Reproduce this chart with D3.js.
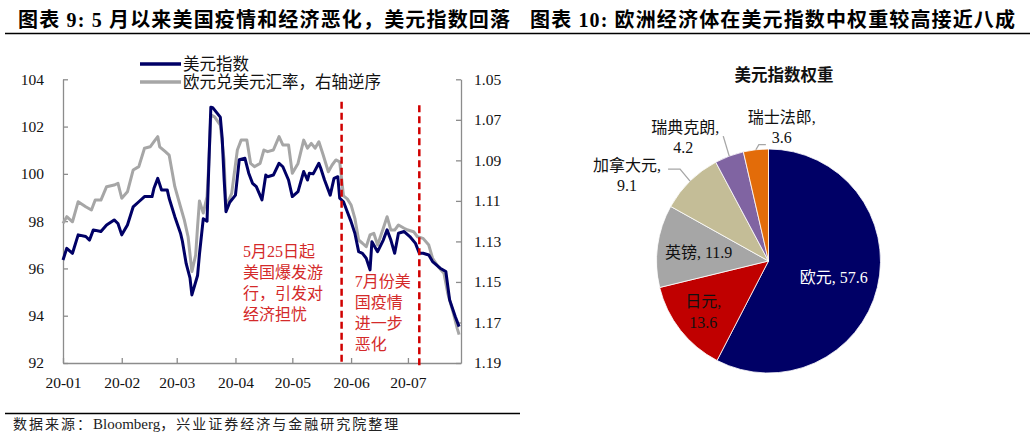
<!DOCTYPE html>
<html><head><meta charset="utf-8">
<script src="https://cdn.jsdelivr.net/npm/d3@7"></script>
<style>body{margin:0;background:#fff}svg{display:block}</style>
</head><body>
<svg id="c" width="1034" height="442"></svg>
<script>
// ---------- data ----------
const dxyDates = ["2020-01-01","2020-01-03","2020-01-06","2020-01-09","2020-01-13","2020-01-15","2020-01-17","2020-01-21","2020-01-24","2020-01-28","2020-01-30",
"2020-02-01","2020-02-04","2020-02-07","2020-02-10","2020-02-13","2020-02-17","2020-02-18","2020-02-20","2020-02-22","2020-02-25","2020-02-26","2020-02-29",
"2020-03-03","2020-03-04","2020-03-06","2020-03-08","2020-03-09","2020-03-12","2020-03-13","2020-03-15","2020-03-17","2020-03-18","2020-03-19","2020-03-20","2020-03-22","2020-03-24","2020-03-25","2020-03-26","2020-03-27","2020-03-29",
"2020-04-01","2020-04-03","2020-04-06","2020-04-08","2020-04-10","2020-04-12","2020-04-15","2020-04-17","2020-04-18","2020-04-21","2020-04-24","2020-04-26","2020-04-29",
"2020-05-01","2020-05-04","2020-05-07","2020-05-09","2020-05-10","2020-05-12","2020-05-15","2020-05-16","2020-05-18","2020-05-21","2020-05-23","2020-05-25","2020-05-26","2020-05-28","2020-05-30",
"2020-06-01","2020-06-03","2020-06-05","2020-06-07","2020-06-09","2020-06-11","2020-06-12","2020-06-15","2020-06-18","2020-06-20","2020-06-22","2020-06-24","2020-06-26","2020-06-29",
"2020-07-02","2020-07-05","2020-07-07","2020-07-09","2020-07-12","2020-07-14","2020-07-18","2020-07-21","2020-07-23","2020-07-26","2020-07-28"];
const dxyValues = [96.36,96.85,96.64,97.42,97.35,97.2,97.63,97.56,97.84,98.05,97.9,
97.42,97.84,98.6,98.82,99.04,99.04,99.39,99.81,99.32,99.32,98.97,98.19,
97.49,97.15,96.2,95.6,94.88,95.7,96.6,98.1,98.0,100.5,102.82,102.8,102.6,102.4,101.5,99.8,98.4,98.8,
99.1,100.6,100.66,100.03,99.6,99.46,98.9,99.95,99.88,99.95,100.45,100.3,99.74,
99.04,99.25,100.1,99.74,100.03,100.0,100.45,100.24,99.74,99.1,99.81,99.88,98.97,98.82,98.4,
97.98,97.49,96.71,96.64,96.43,95.94,97.13,96.71,97.2,97.63,97.2,96.64,97.49,97.56,
97.35,97.06,96.64,96.64,96.57,96.29,96.01,95.87,94.67,93.96,93.54];

const eurDates = ["2020-01-01","2020-01-03","2020-01-06","2020-01-09","2020-01-13","2020-01-16","2020-01-18","2020-01-21","2020-01-24","2020-01-28","2020-01-30",
"2020-02-01","2020-02-04","2020-02-07","2020-02-10","2020-02-13","2020-02-16","2020-02-18","2020-02-20","2020-02-21","2020-02-24","2020-02-26","2020-02-29",
"2020-03-03","2020-03-05","2020-03-07","2020-03-09","2020-03-11","2020-03-12","2020-03-13","2020-03-15","2020-03-17","2020-03-18","2020-03-19","2020-03-21","2020-03-24","2020-03-26","2020-03-27","2020-03-30",
"2020-04-02","2020-04-04","2020-04-07","2020-04-09","2020-04-11","2020-04-14","2020-04-16","2020-04-18","2020-04-21","2020-04-24","2020-04-26","2020-04-29",
"2020-05-01","2020-05-04","2020-05-07","2020-05-09","2020-05-11","2020-05-13","2020-05-15","2020-05-17","2020-05-20","2020-05-22","2020-05-24","2020-05-26","2020-05-28","2020-05-30",
"2020-06-01","2020-06-03","2020-06-05","2020-06-07","2020-06-09","2020-06-11","2020-06-13","2020-06-15","2020-06-18","2020-06-20","2020-06-22","2020-06-24","2020-06-26","2020-06-29",
"2020-07-01","2020-07-04","2020-07-06","2020-07-09","2020-07-12","2020-07-14","2020-07-17","2020-07-20","2020-07-22","2020-07-25","2020-07-27","2020-07-28"];
const eurValues = [1.1211,1.1178,1.1203,1.1104,1.1129,1.1145,1.1096,1.1096,1.103,1.1022,1.1013,
1.1087,1.1055,1.0948,1.0931,1.084,1.0833,1.0808,1.0783,1.0833,1.0857,1.0874,1.103,
1.1129,1.1194,1.1277,1.1449,1.1367,1.1227,1.110,1.116,1.1079,1.09,1.0676,1.0685,1.0726,1.0898,1.1129,1.1063,
1.0849,1.08,1.08,1.0915,1.0931,1.0915,1.0849,1.0857,1.0849,1.0783,1.0824,1.0824,
1.0964,1.0915,1.08,1.084,1.0816,1.084,1.0808,1.0865,1.0956,1.0923,1.0898,1.0907,1.1075,1.109,
1.112,1.1186,1.1293,1.1309,1.1326,1.1268,1.126,1.1318,1.1235,1.1178,1.1244,1.1244,1.1219,1.1235,
1.1244,1.1252,1.1277,1.1285,1.1318,1.1383,1.1425,1.1457,1.1556,1.1655,1.1729,1.176];

const xTickDates = ["2020-01-01","2020-02-01","2020-03-01","2020-04-01","2020-05-01","2020-06-01","2020-07-01"];
const xTickLabels = ["20-01","20-02","20-03","20-04","20-05","20-06","20-07"];
const leftTicks = [92,94,96,98,100,102,104];
const rightTicks = [1.05,1.07,1.09,1.11,1.13,1.15,1.17,1.19];
const seriesNames = ["美元指数","欧元兑美元汇率，右轴逆序"];
const eventDates = ["2020-05-27","2020-07-07"];
const note1 = ["5月25日起","美国爆发游","行，引发对","经济担忧"];
const note2 = ["7月份美","国疫情","进一步","恶化"];

const pieCategories = ["欧元","日元","英镑","加拿大元","瑞典克朗","瑞士法郎"];
const pieValues = [57.6,13.6,11.9,9.1,4.2,3.6];
const pieColors = ["#000066","#c00000","#a6a6a6","#c4bd97","#8064a2","#e36c09"];

// ---------- drawing ----------
const svg = d3.select("#c");
const serif = "'Liberation Serif','Noto Sans CJK SC',serif";
const P = d => new Date(d + "T00:00:00Z");

// titles
svg.append("text").attr("x",18).attr("y",27).attr("font-family",serif).attr("font-weight","bold")
  .attr("font-size",20).attr("fill","#000").attr("textLength",492).attr("lengthAdjust","spacing")
  .text("图表 9: 5 月以来美国疫情和经济恶化，美元指数回落");
svg.append("text").attr("x",530).attr("y",27).attr("font-family",serif).attr("font-weight","bold")
  .attr("font-size",20).attr("fill","#000").attr("textLength",485).attr("lengthAdjust","spacing")
  .text("图表 10: 欧洲经济体在美元指数中权重较高接近八成");
svg.append("line").attr("x1",5).attr("x2",1030).attr("y1",33.5).attr("y2",33.5).attr("stroke","#000").attr("stroke-width",1.3);
svg.append("line").attr("x1",5).attr("x2",520).attr("y1",413.5).attr("y2",413.5).attr("stroke","#000").attr("stroke-width",1.3);
const foot = svg.append("text").attr("x",13).attr("y",429).attr("font-family",serif).attr("font-size",14).attr("fill","#222");
foot.append("tspan").attr("letter-spacing",2).text("数据来源：");
foot.append("tspan").attr("font-size",15).text("Bloomberg");
foot.append("tspan").attr("letter-spacing",2).text("，兴业证券经济与金融研究院整理");

// scales
const x = d3.scaleUtc().domain([P("2020-01-01"), P("2020-07-29")]).range([63, 461]);
const yL = d3.scaleLinear().domain([92,104]).range([363, 79.3]);
const yR = d3.scaleLinear().domain([1.19,1.05]).range([363, 79.3]);

// axes
const axisColor = "#8c8c8c";
function styleAxis(g){
  g.selectAll("path,line").attr("stroke",axisColor).attr("stroke-width",1.3);
  g.selectAll("text").attr("font-family",serif).attr("font-size",15.5).attr("fill","#111");
}
svg.append("g").attr("transform","translate(63,0)")
  .call(d3.axisLeft(yL).tickValues(leftTicks).tickSize(-5).tickSizeOuter(0).tickPadding(19))
  .call(styleAxis);
svg.append("g").attr("transform","translate(461,0)")
  .call(d3.axisRight(yR).tickValues(rightTicks).tickFormat(d3.format(".2f")).tickSize(-5).tickSizeOuter(0).tickPadding(13))
  .call(styleAxis);
svg.append("g").attr("transform","translate(0,363)")
  .call(d3.axisBottom(x).tickValues(xTickDates.map(P)).tickFormat((d,i)=>xTickLabels[i]).tickSize(-5).tickSizeOuter(0).tickPadding(14))
  .call(styleAxis);

// lines
const eurData = eurDates.map((d,i)=>({d:P(d),v:eurValues[i]}));
const dxyData = dxyDates.map((d,i)=>({d:P(d),v:dxyValues[i]}));
svg.append("path").datum(eurData).attr("fill","none").attr("stroke","#a6a6a6").attr("stroke-width",3)
  .attr("stroke-linejoin","round").attr("d", d3.line().x(d=>x(d.d)).y(d=>yR(d.v)));
svg.append("path").datum(dxyData).attr("fill","none").attr("stroke","#000066").attr("stroke-width",3)
  .attr("stroke-linejoin","round").attr("d", d3.line().x(d=>x(d.d)).y(d=>yL(d.v)));

// event lines
const eventTops = [103.05, 102.9];
eventDates.forEach((d,i)=>{
  svg.append("line").attr("x1",x(P(d))).attr("x2",x(P(d))).attr("y1",yL(eventTops[i])).attr("y2",yL(91.9))
    .attr("stroke","#d00000").attr("stroke-width",2.5).attr("stroke-dasharray","7,4");
});

// notes
const noteColor = "#d42a2a";
function note(lines, dx, yTop){
  const t = svg.append("text").attr("font-family",serif).attr("font-size",16).attr("fill",noteColor);
  lines.forEach((s,i)=>{
    t.append("tspan").attr("x",x(P(dx))).attr("y",yL(yTop) + i*21).text(s);
  });
}
note(note1, "2020-04-05", 96.48);
note(note2, "2020-06-03", 95.21);

// legend
const legY = [64, 82];
const legColors = ["#000066","#a6a6a6"];
seriesNames.forEach((n,i)=>{
  svg.append("line").attr("x1",140).attr("x2",181).attr("y1",legY[i]).attr("y2",legY[i])
    .attr("stroke",legColors[i]).attr("stroke-width",3.5);
  svg.append("text").attr("x",183).attr("y",legY[i]+6).attr("font-family",serif).attr("font-size",16.5)
    .attr("fill","#111").text(n);
});

// ---------- pie ----------
const cx = 768.5, cy = 261, R = 112;
svg.append("text").attr("x",784).attr("y",81).attr("text-anchor","middle").attr("font-family",serif)
  .attr("font-weight","bold").attr("font-size",16.5).attr("fill","#111").text("美元指数权重");
const pie = d3.pie().sort(null).value(d=>d)(pieValues);
const arc = d3.arc().innerRadius(0).outerRadius(R);
const gp = svg.append("g").attr("transform",`translate(${cx},${cy})`);
gp.selectAll("path").data(pie).join("path").attr("d",arc)
  .attr("fill",(d,i)=>pieColors[i]).attr("stroke","#fff").attr("stroke-width",0.8);

const fmt = v => d3.format(".1f")(v);
const mid = d => (d.startAngle + d.endAngle)/2;
const polar = (a, r) => [Math.sin(a)*r, -Math.cos(a)*r];
const inside = [
  {i:0, rf:0.60, two:false, color:"#fff", dy:6},
  {i:1, rf:0.74, two:true,  color:"#111", dy:0},
  {i:2, rf:0.63, two:false, color:"#111", dy:6}
];
inside.forEach(o=>{
  const d = pie[o.i];
  const [px,py] = polar(mid(d), R*o.rf);
  const t = gp.append("text").attr("text-anchor","middle").attr("font-family",serif)
    .attr("font-size",16).attr("fill",o.color);
  if (o.two){
    t.append("tspan").attr("x",px).attr("y",py-5).text(pieCategories[o.i]+",");
    t.append("tspan").attr("x",px).attr("y",py+16).text(fmt(pieValues[o.i]));
  } else {
    t.attr("x",px).attr("y",py+o.dy).text(pieCategories[o.i]+", "+fmt(pieValues[o.i]));
  }
});
const outside = [
  {i:3, pts:[[0,0],[-10,-12],[-22,-12]], tx:-63, ty:-10},
  {i:4, pts:[[0,0],[-6,-20]], tx:-44, ty:-23},
  {i:5, pts:[[0,0],[3,-5],[10,-5]], tx:26, ty:-27}
];
outside.forEach(o=>{
  const d = pie[o.i];
  const [ex,ey] = polar(mid(d), R);
  gp.append("path").attr("d", d3.line()(o.pts.map(p=>[ex+p[0], ey+p[1]])))
    .attr("fill","none").attr("stroke","#a6a6a6").attr("stroke-width",1.3);
  const t = gp.append("text").attr("text-anchor","middle").attr("font-family",serif)
    .attr("font-size",16).attr("fill","#111");
  t.append("tspan").attr("x",ex+o.tx).attr("y",ey+o.ty).text(pieCategories[o.i]+",");
  t.append("tspan").attr("x",ex+o.tx - (o.i===4?2:0)).attr("y",ey+o.ty+20).text(fmt(pieValues[o.i]));
});
</script>
</body></html>
